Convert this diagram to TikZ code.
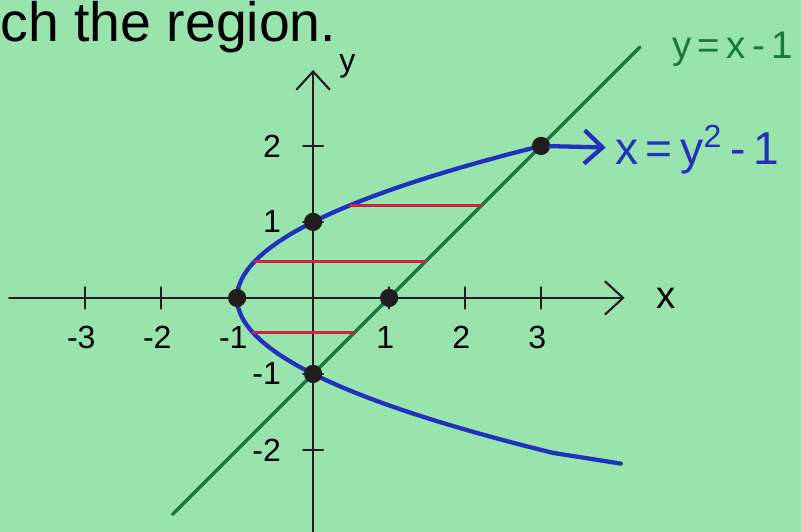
\documentclass[tikz,border=0pt]{standalone}
\usepackage{fontspec}
\setmainfont{Liberation Sans}
\usetikzlibrary{arrows.meta,calc,positioning}
\definecolor{paper}{RGB}{152,228,172}
\definecolor{penblue}{RGB}{35,50,190}
\definecolor{pengreen}{RGB}{25,120,65}
\definecolor{penred}{RGB}{205,35,70}
\definecolor{penblack}{RGB}{35,30,30}

\begin{document}
\begin{tikzpicture}[>={Straight Barb[length=2.4mm,width=4.4mm]},line cap=round,font=\large,
    axis/.style={penblack,line width=0.8pt},
    curve/.style={penblue,line width=1.6pt},
    strip/.style={penred,line width=1.2pt},
    pt/.style={circle,fill=penblack,inner sep=0pt,minimum size=2.4mm}]
        % paper and frame
        \fill[paper] (-4.12,-3.08) rectangle (6.42,3.92);
        \useasboundingbox (-4.12,-3.08) rectangle (6.42,3.92);
        \clip (-4.12,-3.08) rectangle (6.42,3.92);
        \node[anchor=base west,font=\huge,inner sep=0pt] (title) at (-4.12,3.38) {ch the region.};
        % axes
        \coordinate (xl) at (-4.0,0); \coordinate (xr) at (4.1,0);
        \coordinate (yb) at (0,-3.2); \coordinate (yt) at (0,3.0);
        \draw[axis,->] (xl)--(xr); \draw[axis,->] (yb)--(yt);
        \node[right=3mm of xr,font=\Large] (xlbl) {x};
        \node (ylbl) at (0.45,3.05) {y};
        \foreach \i in {-3,-2,-1,1,2,3} {
          \draw[axis] (\i,-0.14)--(\i,0.14);
          \node (xt\i) at (\i-0.05,-0.52) {\i};
        }
        \foreach \j in {-2,-1,1,2} {
          \draw[axis] (-0.13,\j)--(0.13,\j);
          \node[anchor=east] (yt\j) at (-0.3,\j) {\j};
        }
        % line y = x - 1
        \coordinate (gl) at (-1.85,-2.85); \coordinate (gu) at (4.3,3.3);
        \draw[pengreen,line width=1.3pt] (gl)--(gu);
        \node[anchor=base west,font=\Large,text=pengreen,inner sep=0pt] (linelbl) at (4.72,3.15) {y\,=\,x\,-\,1};
        % parabola x = y^2 - 1
        \coordinate (pl) at (4.05,-2.18);
        \draw[curve] (pl) -- plot[domain=-2.04:2,samples=61,smooth] ({\x*\x-1},\x);
        \node[anchor=west,font=\LARGE,text=penblue] (parlbl) at (3.85,1.95) {x\,=\,y\textsuperscript{2}\,-\,1};
        % strips
        \foreach \s in {1.22,0.48,-0.46}
          \draw[strip] ({\s*\s-1},\s)--({\s+1},\s);
        % intersection points
        \node[pt] (vtx) at (-1,0) {};
        \node[pt] (p01) at (0,1) {};
        \node[pt] (p10) at (1,0) {};
        \node[pt] (p0m) at (0,-1) {};
        \node[pt] (p32) at (3,2) {};
        \draw[curve,->] (p32)--(parlbl);
      \end{tikzpicture}
\end{document}
